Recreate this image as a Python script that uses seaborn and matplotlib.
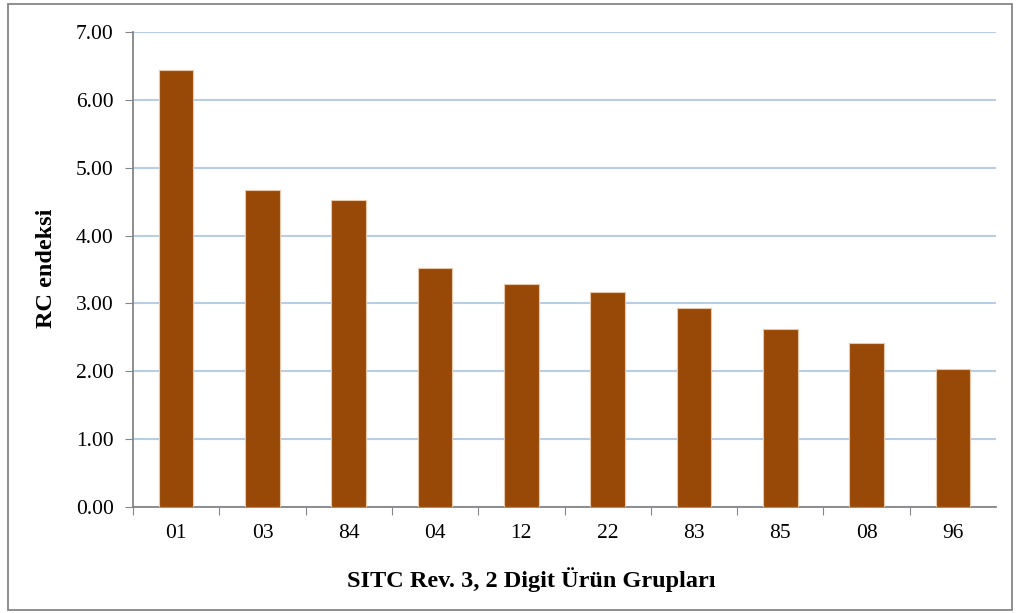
import numpy as np
import pandas as pd
import seaborn as sns
import matplotlib
matplotlib.use("Agg")
from matplotlib import pyplot as plt
from matplotlib.patches import Rectangle

groups = ["01", "03", "84", "04", "12", "22", "83", "85", "08", "96"]
rc_values = [6.44, 4.67, 4.53, 3.52, 3.29, 3.17, 2.94, 2.63, 2.42, 2.03]
y_ticks = [0, 1, 2, 3, 4, 5, 6, 7]

df = pd.DataFrame({"group": groups, "rc": rc_values})

sns.set_style("white")
plt.rcParams["font.family"] = ["Liberation Serif", "DejaVu Serif"]
plt.rcParams["text.color"] = "black"
plt.rcParams["axes.labelcolor"] = "black"
plt.rcParams["xtick.labelcolor"] = "black"
plt.rcParams["ytick.labelcolor"] = "black"

W, H = 1016, 613
fig = plt.figure(figsize=(W / 100, H / 100), dpi=100)
x0, x1, y0, y1 = 133, 996, 32, 507
ax = fig.add_axes([x0 / W, 1 - y1 / H, (x1 - x0) / W, (y1 - y0) / H])

sns.barplot(data=df, x="group", y="rc", color="#984807", saturation=1,
            width=0.4, edgecolor="#e8c8a8", linewidth=0.8, ax=ax, zorder=3)

ax.set_ylim(0, 7)
ax.set_xlim(-0.5, len(groups) - 0.5)
ax.set_yticks(y_ticks)
ax.set_yticklabels([f"{v:.2f}" for v in y_ticks], fontsize=15.5)
ax.yaxis.grid(True, color="#b9cde5", linewidth=1.5, zorder=0)
ax.set_axisbelow(True)

# category ticks sit between the bars
ax.set_xticks(np.arange(len(groups)) - 0.5, minor=False)
ax.set_xticklabels([""] * len(groups))
ax.set_xticks(np.arange(len(groups)), minor=True)
ax.set_xticklabels(groups, minor=True, fontsize=15.5)
ax.tick_params(axis="x", which="major", direction="out", length=6, color="#868686", bottom=True)
ax.tick_params(axis="x", which="minor", length=0, pad=12)
ax.tick_params(axis="y", direction="out", length=6, color="#868686", left=True, pad=8)

for side in ["top", "right"]:
    ax.spines[side].set_visible(False)
for side in ["left", "bottom"]:
    ax.spines[side].set_color("#868686")
    ax.spines[side].set_linewidth(1.3)

ax.set_xlabel("SITC Rev. 3, 2 Digit Ürün Grupları", fontsize=17.5, fontweight="bold")
ax.set_ylabel("RC endeksi", fontsize=17.5, fontweight="bold")
ax.xaxis.set_label_coords((531 - x0) / (x1 - x0), -(580 - y1) / (y1 - y0))
ax.xaxis.label.set_va("center")
ax.yaxis.set_label_coords(-(x0 - 46) / (x1 - x0), (y1 - 268) / (y1 - y0))
ax.yaxis.label.set_va("center")

fig.patches.append(Rectangle((8 / W, 3 / H), 1004 / W, 606 / H,
                             transform=fig.transFigure, fill=False,
                             edgecolor="#868686", linewidth=1.3))

fig.savefig("out.png", dpi=100)
plt.close(fig)
